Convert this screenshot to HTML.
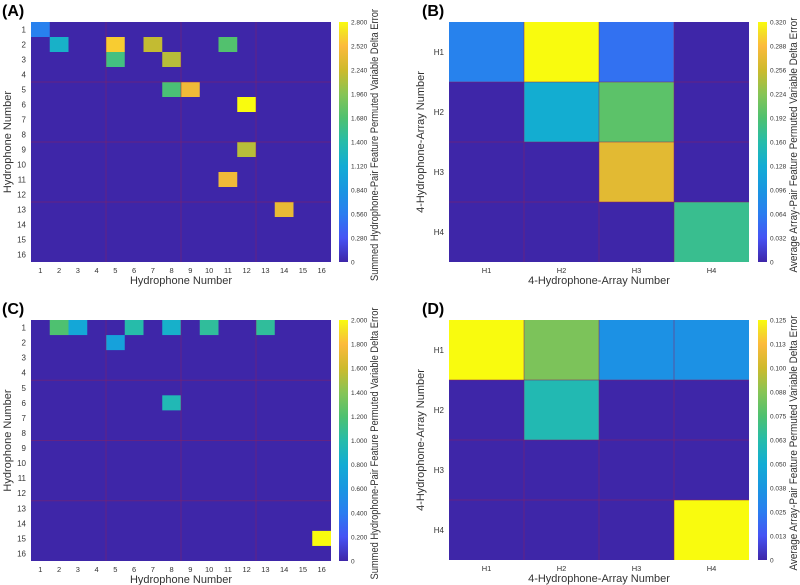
<!DOCTYPE html>
<html><head><meta charset="utf-8"><style>
html,body{margin:0;padding:0;background:#fff;}
svg{display:block;font-family:"Liberation Sans",sans-serif;}
</style></head><body>
<svg id="fig" width="800" height="585" viewBox="0 0 800 585" xmlns="http://www.w3.org/2000/svg">
<defs>
<linearGradient id="parula" x1="0" y1="1" x2="0" y2="0">
<stop offset="0" stop-color="rgb(62,38,168)"/>
<stop offset="0.1" stop-color="rgb(70,83,244)"/>
<stop offset="0.2" stop-color="rgb(42,125,240)"/>
<stop offset="0.3" stop-color="rgb(25,150,225)"/>
<stop offset="0.4" stop-color="rgb(18,172,212)"/>
<stop offset="0.5" stop-color="rgb(38,188,170)"/>
<stop offset="0.6" stop-color="rgb(78,193,112)"/>
<stop offset="0.7" stop-color="rgb(135,196,85)"/>
<stop offset="0.8" stop-color="rgb(205,186,44)"/>
<stop offset="0.9" stop-color="rgb(252,186,60)"/>
<stop offset="0.95" stop-color="rgb(245,218,40)"/>
<stop offset="1" stop-color="rgb(249,251,14)"/>
</linearGradient>
</defs>
</svg>
<script>
// Panel A data (row, col, value)
const aRows = [1,2,2,2,2,3,3,5,5,6,9,11,13];
const aCols = [1,2,5,7,11,5,8,8,9,12,12,11,14];
const aVals = [0.6,1.2,2.6,2.2,1.7,1.6,2.15,1.65,2.45,2.8,2.15,2.45,2.4];
const aTicks = ["0","0.280","0.560","0.840","1.120","1.400","1.680","1.960","2.240","2.520","2.800"];
// Panel C data
const cRows = [1,1,1,1,1,1,2,6,15];
const cCols = [2,3,6,8,10,13,5,8,16];
const cVals = [1.2,0.75,1.0,0.85,1.05,1.05,0.7,0.95,2.0];
const cTicks = ["0","0.200","0.400","0.600","0.800","1.000","1.200","1.400","1.600","1.800","2.000"];
// Panel B matrix
const bVals = [[0.07,0.32,0.055,0],[0,0.13,0.2,0],[0,0,0.27,0],[0,0,0,0.175]];
const bTicks = ["0","0.032","0.064","0.096","0.128","0.160","0.192","0.224","0.256","0.288","0.320"];
// Panel D matrix
const dVals = [[0.125,0.085,0.035,0.035],[0,0.06,0,0],[0,0,0,0],[0,0,0,0.125]];
const dTicks = ["0","0.013","0.025","0.038","0.050","0.063","0.075","0.088","0.100","0.113","0.125"];
const hLabels = ["H1","H2","H3","H4"];

const NS="http://www.w3.org/2000/svg";
const svg=document.getElementById('fig');
const stopPos=[0,0.1,0.2,0.3,0.4,0.5,0.6,0.7,0.8,0.9,0.95,1];
const stops=[[62,38,168],[70,83,244],[42,125,240],[25,150,225],[18,172,212],[38,188,170],[78,193,112],[135,196,85],[205,186,44],[252,186,60],[245,218,40],[249,251,14]];
function parula(t){t=Math.max(0,Math.min(1,t));let i=0;while(i<stopPos.length-2&&t>stopPos[i+1])i++;
const f=(t-stopPos[i])/(stopPos[i+1]-stopPos[i]);const a=stops[i],b=stops[i+1];
return `rgb(${Math.round(a[0]+(b[0]-a[0])*f)},${Math.round(a[1]+(b[1]-a[1])*f)},${Math.round(a[2]+(b[2]-a[2])*f)})`;}
function el(tag,attrs,parent){const e=document.createElementNS(NS,tag);for(const k in attrs)e.setAttribute(k,attrs[k]);(parent||svg).appendChild(e);return e;}
function txt(s,attrs,parent){const e=el('text',attrs,parent);e.textContent=s;return e;}

function panel(o){
  const g=el('g',{});
  
  
  const n=o.n, cw=(o.x1-o.x0)/n, ch=(o.y1-o.y0)/n;
  const xs=c=>o.x0+(c-1)*cw, ys=r=>o.y0+(r-1)*ch;
  const bg=el('rect',{x:o.x0,y:o.y0,width:o.x1-o.x0,height:o.y1-o.y0,fill:parula(0)},g);
  
  
  o.cells.forEach(([r,c,v])=>{
    const rc=el('rect',{x:xs(c),y:ys(r),width:cw,height:ch,fill:parula(v/o.max)},g);
    
    
  });
  o.grid.forEach(k=>{
    el('line',{x1:o.x0+k*cw,x2:o.x0+k*cw,y1:o.y0,y2:o.y1,stroke:'#8a2060','stroke-width':1,'stroke-opacity':0.5},g);
    el('line',{y1:o.y0+k*ch,y2:o.y0+k*ch,x1:o.x0,x2:o.x1,stroke:'#8a2060','stroke-width':1,'stroke-opacity':0.5},g);
  });
  for(let i=0;i<n;i++){
    const xl=txt(o.labels[i],{x:o.x0+(i+0.5)*cw,y:o.y1+11,'font-size':7.5,fill:'#333','text-anchor':'middle'},g);
    
    
    const yl=txt(o.labels[i],{x:o.x0-5,y:o.y0+(i+0.5)*ch+3,'font-size':8,fill:'#333','text-anchor':'end'},g);
    
    
  }
  const xt=txt(o.xlab,{x:(o.x0+o.x1)/2,y:o.y1+22,'font-size':11,fill:'#333','text-anchor':'middle'},g);
  
  
  const yx=o.x0-o.yoff;
  const yt=txt(o.ylab,{x:yx,y:(o.y0+o.y1)/2,'font-size':11,fill:'#333','text-anchor':'middle',transform:`rotate(-90 ${yx} ${(o.y0+o.y1)/2})`},g);
  
  
  const pl=txt(o.tag,{x:o.tagx,y:o.y0-6,'font-size':16,'font-weight':'bold',fill:'#000'},g);
  
  
  const cb=el('rect',{x:o.cbx,y:o.y0,width:9,height:o.y1-o.y0,fill:'url(#parula)'},g);
  
  
  o.ticks.forEach((t,i)=>{
    const yy=o.y1-(o.y1-o.y0)*i/(o.ticks.length-1);
    const tl=txt(t,{x:o.cbx+12,y:yy+2.5,'font-size':6.5,fill:'#333'},g);
    
    
  });
  const cx=o.cbx+39;
  const cy=(o.y0+o.y1)/2+3;
  const ct=txt(o.cblab,{x:cx,y:cy,'font-size':11,fill:'#333','text-anchor':'middle',textLength:o.cblen,lengthAdjust:'spacingAndGlyphs',transform:`rotate(-90 ${cx} ${cy})`},g);
  
  
}
const nums=[...Array(16)].map((_,i)=>String(i+1));
const cellsA=aRows.map((r,i)=>[r,aCols[i],aVals[i]]);
const cellsC=cRows.map((r,i)=>[r,cCols[i],cVals[i]]);
const mat=m=>{const out=[];m.forEach((row,r)=>row.forEach((v,c)=>out.push([r+1,c+1,v])));return out;};
const t1="Summed Hydrophone-Pair Feature Permuted Variable Delta Error";
const t2="Average Array-Pair Feature Permuted Variable Delta Error";
panel({name:'panel-a',tag:'(A)',tagx:2,n:16,x0:31,x1:331,y0:22,y1:262,cells:cellsA,max:2.8,grid:[4,8,12],labels:nums,ticks:aTicks,xlab:'Hydrophone Number',ylab:'Hydrophone Number',yoff:20,cbx:339,cblab:t1,cblen:272});
panel({name:'panel-c',tag:'(C)',tagx:2,n:16,x0:31,x1:331,y0:320,y1:561,cells:cellsC,max:2.0,grid:[4,8,12],labels:nums,ticks:cTicks,xlab:'Hydrophone Number',ylab:'Hydrophone Number',yoff:20,cbx:339,cblab:t1,cblen:272});
panel({name:'panel-b',tag:'(B)',tagx:422,n:4,x0:449,x1:749,y0:22,y1:262,cells:mat(bVals),max:0.32,grid:[1,2,3],labels:hLabels,ticks:bTicks,xlab:'4-Hydrophone-Array Number',ylab:'4-Hydrophone-Array Number',yoff:25,cbx:758,cblab:t2,cblen:255});
panel({name:'panel-d',tag:'(D)',tagx:422,n:4,x0:449,x1:749,y0:320,y1:560,cells:mat(dVals),max:0.125,grid:[1,2,3],labels:hLabels,ticks:dTicks,xlab:'4-Hydrophone-Array Number',ylab:'4-Hydrophone-Array Number',yoff:25,cbx:758,cblab:t2,cblen:255});
</script>
</body></html>
